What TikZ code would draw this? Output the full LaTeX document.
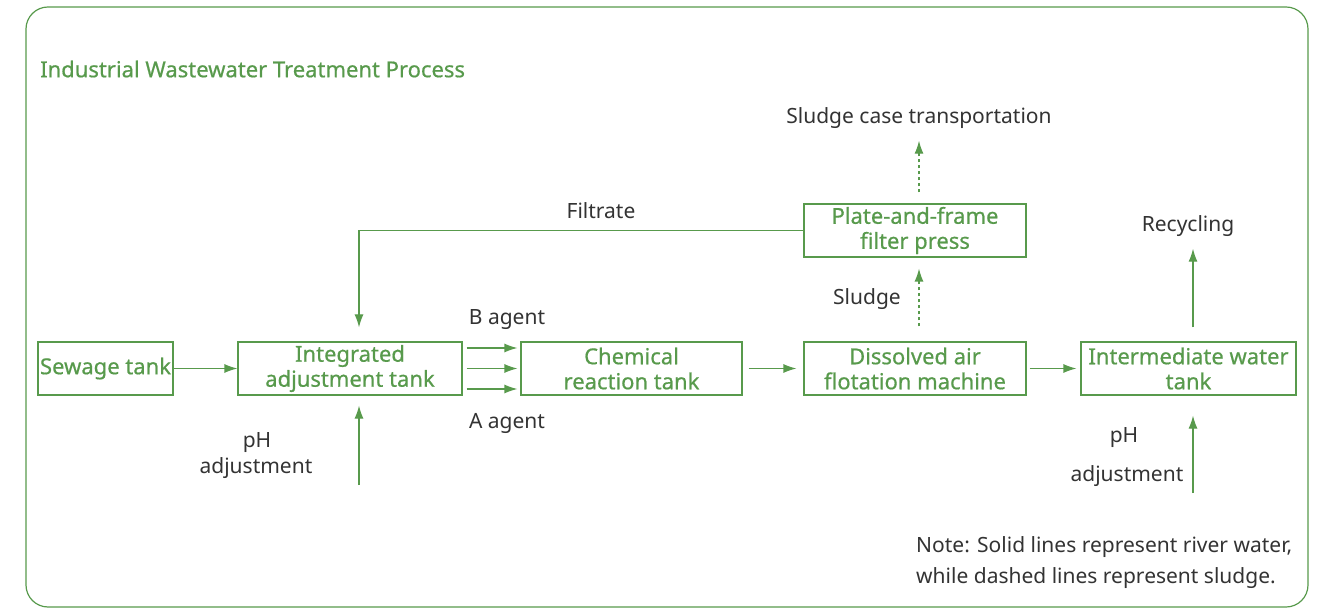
\documentclass[tikz,border=0pt]{standalone}
\usepackage{fontspec}
\setmainfont{Noto Sans}
\newfontfamily\unitfont[FakeBold=0.6]{Noto Sans}
\usetikzlibrary{arrows.meta,calc}
\definecolor{leaf}{RGB}{88,154,76}
\definecolor{ink}{RGB}{51,51,51}
\begin{document}
\begin{tikzpicture}[x=1pt,y=-1pt,
  tank/.style={draw=leaf, line width=1.2pt, text=leaf, font=\unitfont\fontsize{22}{25}\selectfont,
    align=center, inner sep=0pt, minimum height=53pt},
  flow/.style={draw=leaf, line width=1.2pt, -{Latex[length=13pt,width=9pt]}},
  sludgeflow/.style={flow, dash pattern=on 3pt off 3pt},
  lbl/.style={text=ink, font=\fontsize{21}{25}\selectfont, inner sep=0pt}]

\useasboundingbox (0,0) rectangle (1319,609);
\draw[leaf, line width=1.2pt, rounded corners=22pt] (26,7) rectangle (1308,607);

% title
\node[anchor=west, text=leaf, font=\unitfont\fontsize{22}{25}\selectfont, inner sep=0pt] (title) at (40,69)
  {Industrial Wastewater Treatment Process};

% process units
\node[tank, minimum width=135pt] (sewage) at (105.5,368.5) {Sewage tank};
\node[tank, minimum width=224pt] (integ) at (350,368.5) {Integrated\\adjustment tank};
\node[tank, minimum width=221pt] (chem) at (631.5,368.5) {Chemical\\reaction tank};
\node[tank, minimum width=222pt] (diss) at (915,368.5) {Dissolved air\\flotation machine};
\node[tank, minimum width=222pt] (filter) at (915,230.5) {Plate-and-frame\\filter press};
\node[tank, minimum width=215pt] (inter) at (1188.5,368.5) {Intermediate water\\tank};

% labels
\node[lbl] (transport) at (919,118) {Sludge case transportation};
\node[lbl] (filtrate) at (601,211) {Filtrate};
\node[lbl] (sludge) at (867,299) {Sludge};
\node[lbl] (bagent) at (507,320) {B agent};
\node[lbl] (aagent) at (507,423) {A agent};
\node[lbl] (ph1) at (257,443) {pH};
\node[lbl] (adj1) at (256,468) {adjustment};
\node[lbl] (recyc) at (1188,226) {Recycling};
\node[lbl] (ph2) at (1124,438) {pH};
\node[lbl] (adj2) at (1127,476) {adjustment};
\node[lbl, anchor=west] (note1) at (916,547) {Note: Solid lines represent river water,};
\node[lbl, anchor=west] (note2) at (916,578) {while dashed lines represent sludge.};

% free ends of the dosing lines
\coordinate (phin1) at (359,485);
\coordinate (phin2) at (1193,493);

% water lines
\draw[flow] (sewage) -- (integ);
\draw[flow] ($(integ.east)+(4,-20.5)$) -- ($(chem.west)+(-3,-20.5)$);
\draw[flow] ($(integ.east)+(4,0)$) -- ($(chem.west)+(-3,0)$);
\draw[flow] ($(integ.east)+(4,20.5)$) -- ($(chem.west)+(-3,20.5)$);
\draw[flow] ($(chem.east)+(6,0)$) -- ($(diss.west)+(-7,0)$);
\draw[flow] ($(diss.east)+(3,0)$) -- ($(inter.west)+(-4,0)$);
\draw[flow] (phin1) -- ($(integ.south)+(9,10)$);
\draw[flow] (filter.west) -| ($(integ.north)+(9,-14)$);
\draw[flow] ($(inter.north)+(4.5,-14)$) -- ($(recyc.south)+(5,12)$);
\draw[flow] (phin2) -- ($(inter.south)+(4.5,20)$);

% sludge lines
\draw[sludgeflow] ($(diss.north)+(4,-15)$) -- ($(filter.south)+(4,11)$);
\draw[sludgeflow] ($(filter.north)+(4,-11)$) -- ($(transport.south)+(0,12)$);
\end{tikzpicture}
\end{document}
